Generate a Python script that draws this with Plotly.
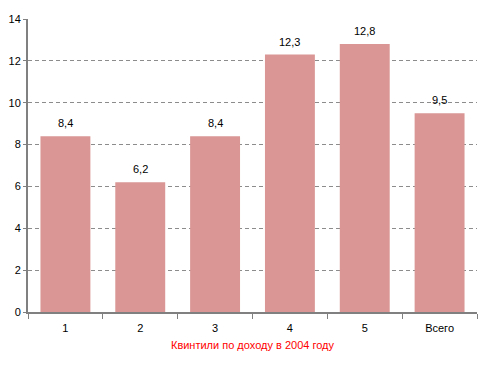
import plotly.graph_objects as go

categories = ["1", "2", "3", "4", "5", "Всего"]
values = [8.4, 6.2, 8.4, 12.3, 12.8, 9.5]
y_ticks = [0, 2, 4, 6, 8, 10, 12, 14]
x_title = "Квинтили по доходу в 2004 году"

fig = go.Figure(go.Bar(
    x=categories, y=values,
    marker=dict(color="#D99694", line=dict(width=0)),
    cliponaxis=False,
))

for i, v in enumerate(values):
    fig.add_annotation(
        x=i, y=v, text=f"{v:.1f}".replace(".", ","),
        showarrow=False, yanchor="bottom", yshift=5,
        font=dict(size=11, color="black"),
    )

# page body has an 8px default margin, so the figure is sized/offset to compensate
fig.update_layout(
    width=478, height=361,
    margin=dict(l=20, r=9, t=11, b=57),
    plot_bgcolor="white", paper_bgcolor="white",
    bargap=0.333,
    font=dict(family="Liberation Sans, Arial, sans-serif", size=11, color="black"),
    showlegend=False,
)
fig.update_xaxes(
    type="category",
    automargin=False,
    showline=True, linecolor="#808080", linewidth=2,
    ticks="outside", ticklen=5, tickcolor="#808080", tickson="boundaries",
    ticklabelstandoff=5,
    showgrid=False,
    title=dict(text=x_title, font=dict(color="#FF0000", size=11), standoff=8),
)
fig.update_yaxes(
    automargin=False,
    range=[0, 14], tickvals=y_ticks,
    showline=True, linecolor="#808080", linewidth=2,
    ticks="outside", ticklen=3, tickcolor="#808080",
    showgrid=True, gridcolor="#8c8c8c", griddash="4px,3px", gridwidth=1,
    zeroline=False,
)

fig.write_html("out.html")
